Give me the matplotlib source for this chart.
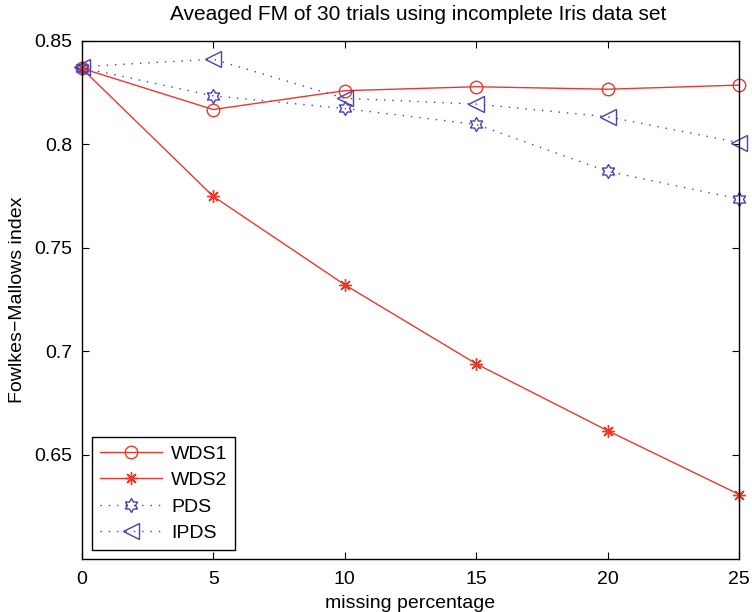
import numpy as np
import matplotlib
matplotlib.use("Agg")
import matplotlib.pyplot as plt
from matplotlib.path import Path

# Averaged Fowlkes-Mallows index vs. missing percentage
missing = [0, 5, 10, 15, 20, 25]
wds1 = [0.8367, 0.8168, 0.8259, 0.8278, 0.8266, 0.8286]
wds2 = [0.8367, 0.7749, 0.7322, 0.6940, 0.6617, 0.6309]
pds = [0.8370, 0.8234, 0.8173, 0.8096, 0.7869, 0.7736]
ipds = [0.8375, 0.8411, 0.8222, 0.8194, 0.8133, 0.8008]

x_ticks = [0, 5, 10, 15, 20, 25]
y_ticks = [0.65, 0.7, 0.75, 0.8, 0.85]
y_tick_labels = ["0.65", "0.7", "0.75", "0.8", "0.85"]

RED = "#e8392a"
BLUE = "#4b3cb8"

plt.rcParams["font.family"] = ["Liberation Sans", "DejaVu Sans"]

# six-pointed star (hexagram) marker
ang = np.pi / 2 + np.arange(12) * np.pi / 6
rad = np.where(np.arange(12) % 2 == 0, 1.0, 1.0 / np.sqrt(3))
verts = np.column_stack([rad * np.cos(ang), rad * np.sin(ang)])
verts = np.vstack([verts, verts[:1]])
codes = [Path.MOVETO] + [Path.LINETO] * 11 + [Path.CLOSEPOLY]
hexagram = Path(verts, codes)

fig = plt.figure(figsize=(7.52, 6.12), dpi=100)
ax = fig.add_axes([0.1086, 0.0874, 0.8745, 0.846])

ax.plot(missing, wds1, color=RED, lw=1.0, marker="o", ms=9,
        mfc="none", mec=RED, mew=1.0, label="WDS1", clip_on=False)
ax.plot(missing, wds2, color=RED, lw=1.0, marker=(8, 2, 0), ms=9,
        mec=RED, mew=1.0, label="WDS2", clip_on=False)
ax.plot(missing, pds, color=BLUE, lw=1.0, ls=(0, (1, 5)), marker=hexagram,
        ms=10, mfc="none", mec=BLUE, mew=1.0, label="PDS", clip_on=False)
ax.plot(missing, ipds, color=BLUE, lw=1.0, ls=(0, (1, 5)), marker="<",
        ms=11, mfc="none", mec=BLUE, mew=1.0, label="IPDS", clip_on=False)

ax.set_xlim(0, 25)
ax.set_ylim(0.6, 0.85)
ax.set_xticks(x_ticks)
ax.set_xticklabels([str(t) for t in x_ticks])
ax.set_yticks(y_ticks)
ax.set_yticklabels(y_tick_labels)
ax.tick_params(axis="both", direction="in", length=5, width=0.8, top=True,
               right=True, labelsize=14, colors="black")
ax.tick_params(axis="x", pad=9)
ax.tick_params(axis="y", pad=7)
for sp in ax.spines.values():
    sp.set_linewidth(1.0)

ax.set_xlabel("missing percentage", fontsize=14, labelpad=5)
ax.set_ylabel("Fowlkes\u2212Mallows index", fontsize=14, labelpad=6)
ax.set_title("Aveaged FM of 30 trials using incomplete Iris data set",
             fontsize=15, pad=15, x=0.511)

leg = ax.legend(loc="lower left", bbox_to_anchor=(0.016, 0.017),
                borderaxespad=0, fontsize=14, handlelength=3.2,
                handletextpad=0.45, labelspacing=0.45, borderpad=0.4,
                fancybox=False, edgecolor="black", framealpha=1)
leg.get_frame().set_linewidth(1.0)

fig.savefig("out.png", dpi=100)
